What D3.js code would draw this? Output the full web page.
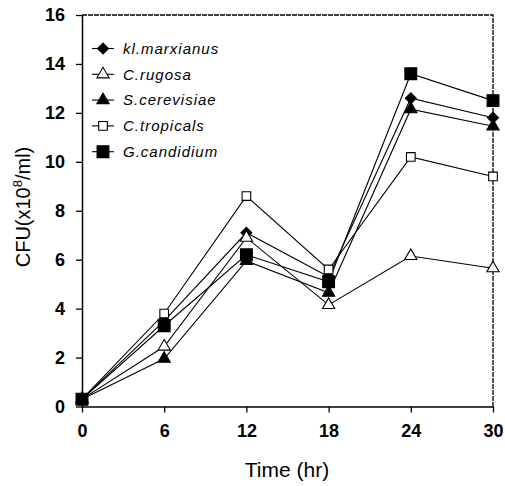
<!DOCTYPE html>
<html>
<head>
<meta charset="utf-8">
<title>CFU over time</title>
<style>
  body { margin: 0; background: #fff; }
  .tick text { font-family: "Liberation Sans", Arial, sans-serif; font-weight: bold; fill: #000; }
  .legend text { font-family: "Liberation Sans", Arial, sans-serif; font-style: italic; font-size: 15px; letter-spacing: 1px; }
</style>
</head>
<body>
<svg width="505" height="486"></svg>
<script src="https://d3js.org/d3.v7.min.js"></script>
<script>
// data
var hours = [0, 6, 12, 18, 24, 30];
var xTicks = [0, 6, 12, 18, 24, 30];
var yTicks = [0, 2, 4, 6, 8, 10, 12, 14, 16];

var marxianus  = [0.3, 3.5, 7.1, 5.3, 12.6, 11.8];
var rugosa     = [0.3, 2.45, 6.9, 4.15, 6.15, 5.65];
var cerevisiae = [0.3, 1.95, 5.95, 4.65, 12.15, 11.45];
var tropicals  = [0.3, 3.8, 8.6, 5.6, 10.2, 9.4];
var candidium  = [0.3, 3.3, 6.2, 5.1, 13.6, 12.5];

var names = ["kl.marxianus", "C.rugosa", "S.cerevisiae", "C.tropicals", "G.candidium"];
var series = [marxianus, rugosa, cerevisiae, tropicals, candidium];
var shapes = ["diamond", "triangle", "triangle", "square", "square"];
var filled = [true, false, true, false, true];
var sizes  = [60, 65, 65, 75, 140];

var svg = d3.select("svg");
var margin = {top: 15, left: 82};
var height = 406.5 - margin.top;

var g = svg.append("g")
    .attr("transform", "translate(" + margin.left + "," + margin.top + ")");

var x = d3.scaleLinear().domain([0, 30]).range([0, 411]);
var y = d3.scaleLinear().domain([0, 16]).range([height, 0]);

// dashed frame top and right
g.append("path")
    .attr("d", "M0,0H" + x(30) + "V" + height)
    .attr("fill", "none")
    .attr("stroke", "#000")
    .attr("stroke-width", 1.3)
    .attr("stroke-dasharray", "5,1");

var xAxis = g.append("g")
    .attr("transform", "translate(0," + height + ")")
    .call(d3.axisBottom(x).tickValues(xTicks).tickSize(6).tickPadding(12).tickSizeOuter(0));
var yAxis = g.append("g")
    .call(d3.axisLeft(y).tickValues(yTicks).tickSize(6).tickPadding(11).tickSizeOuter(0));

[xAxis, yAxis].forEach(function(a) {
  a.select(".domain").attr("stroke", "#000").attr("stroke-width", 1.5);
  a.selectAll(".tick line").attr("stroke", "#000").attr("stroke-width", 1.3);
  a.selectAll(".tick text").style("font-size", "18px");
});

var line = d3.line()
    .x(function(d, i) { return x(hours[i]); })
    .y(function(d) { return y(d); });

function symbolFor(i) {
  var t = shapes[i] === "triangle" ? d3.symbolTriangle : d3.symbolSquare;
  return d3.symbol().type(t).size(sizes[i])();
}
function rotFor(i) { return shapes[i] === "diamond" ? " rotate(45)" : ""; }

series.forEach(function(s, i) {
  g.append("path")
      .datum(s)
      .attr("d", line)
      .attr("fill", "none")
      .attr("stroke", "#000")
      .attr("stroke-width", 1.1);
});

series.forEach(function(s, i) {
  g.append("g").selectAll("path")
    .data(s)
    .enter().append("path")
      .attr("transform", function(d, j) { return "translate(" + x(hours[j]) + "," + y(d) + ")" + rotFor(i); })
      .attr("d", symbolFor(i))
      .attr("fill", filled[i] ? "#000" : "#fff")
      .attr("stroke", "#000")
      .attr("stroke-width", 1.1);
});

// legend
var legend = svg.append("g")
    .attr("class", "legend")
    .selectAll("g")
    .data(names)
    .enter().append("g")
      .attr("transform", function(d, i) { return "translate(92," + (48.5 + i * 25.8) + ")"; });

legend.append("line")
    .attr("x1", 0).attr("x2", 22)
    .attr("stroke", "#000")
    .attr("stroke-width", 1.1);

legend.append("path")
    .attr("transform", function(d, i) { return "translate(11,0)" + rotFor(i); })
    .attr("d", function(d, i) { return symbolFor(i); })
    .attr("fill", function(d, i) { return filled[i] ? "#000" : "#fff"; })
    .attr("stroke", "#000")
    .attr("stroke-width", 1.1);

legend.append("text")
    .attr("x", 31)
    .attr("dy", "0.35em")
    .text(function(d) { return d; });

// axis titles
svg.append("text")
    .attr("x", 287)
    .attr("y", 477)
    .attr("text-anchor", "middle")
    .attr("font-family", "Liberation Sans, Arial, sans-serif")
    .attr("font-size", 21)
    .text("Time (hr)");

var yl = svg.append("text")
    .attr("transform", "translate(30,207) rotate(-90)")
    .attr("text-anchor", "middle")
    .attr("font-family", "Liberation Sans, Arial, sans-serif")
    .attr("font-size", 20);
yl.append("tspan").text("CFU(x10");
yl.append("tspan").attr("dy", -8).attr("font-size", 13).text("8");
yl.append("tspan").attr("dy", 8).text("/ml)");
</script>
</body>
</html>
